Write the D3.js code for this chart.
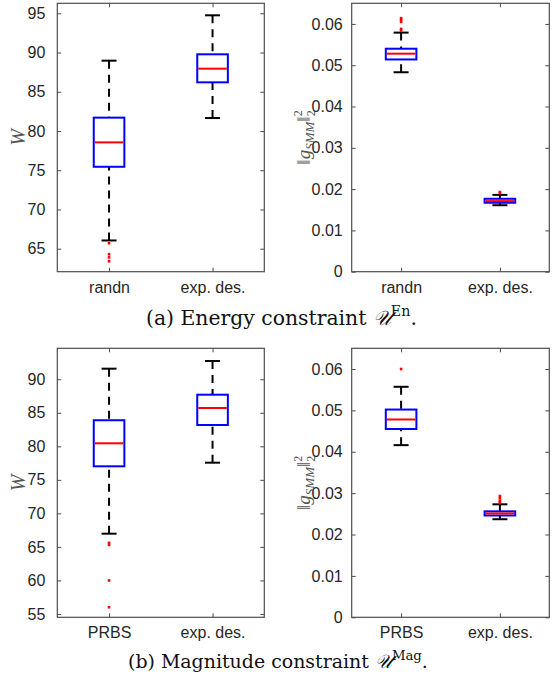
<!DOCTYPE html>
<html>
<head>
<meta charset="utf-8">
<script src="https://cdn.jsdelivr.net/npm/d3@7"></script>
<style>
  html, body { margin: 0; padding: 0; background: #fff; }
  svg { display: block; }
</style>
</head>
<body>
<script>
// ---------------- DATA ----------------
// Box stats: [lower whisker, Q1, median, Q3, upper whisker]
const categoriesEnergy = ["randn", "exp. des."];
const categoriesMagnitude = ["PRBS", "exp. des."];

const energyW_randn = [66.05, 75.44, 78.55, 81.70, 88.96];
const energyW_expdes = [81.65, 86.20, 87.94, 89.77, 94.74];
const energyW_randnOutliers = [65.7, 64.3, 63.9, 63.4];
const energyW_expdesOutliers = [];

const energyG_randn = [0.0483, 0.0514, 0.0528, 0.0540, 0.0579];
const energyG_expdes = [0.0161, 0.0167, 0.0171, 0.01766, 0.0186];
const energyG_randnOutliers = [0.0614, 0.0610, 0.0605, 0.0588, 0.0584];
const energyG_expdesOutliers = [0.0193, 0.0190];

const magW_prbs = [66.97, 77.02, 80.45, 83.89, 91.58];
const magW_expdes = [77.56, 83.18, 85.72, 87.70, 92.73];
const magW_prbsOutliers = [65.6, 65.3, 60.0, 56.0];
const magW_expdesOutliers = [];

const magG_prbs = [0.0416, 0.0455, 0.0478, 0.0502, 0.0557];
const magG_expdes = [0.0237, 0.0246, 0.0251, 0.0256, 0.0273];
const magG_prbsOutliers = [0.0600];
const magG_expdesOutliers = [0.0293, 0.0288, 0.0282, 0.0278, 0.0276];

const ticksW_energy = [65, 70, 75, 80, 85, 90, 95];
const ticksW_magnitude = [55, 60, 65, 70, 75, 80, 85, 90];
const ticksG = [0, 0.01, 0.02, 0.03, 0.04, 0.05, 0.06];
const tickLabelsG = ["0", "0.01", "0.02", "0.03", "0.04", "0.05", "0.06"];

const domainW_energy = [62.07, 96.27];
const domainW_magnitude = [54.5, 94.62];
const domainG = [0, 0.065];

// ---------------- LAYOUT ----------------
const W = 555, H = 679;
const svg = d3.select("body").append("svg").attr("width", W).attr("height", H);

const colLeft = { x0: 57.3, x1: 264.3, labelGap: 8, ylabX: 25 };
const colRight = { x0: 351.7, x1: 549.3, labelGap: 5, ylabX: 310 };
const rowTop = { y0: 3.3, y1: 271.7, xlabY: 293.3 };
const rowBot = { y0: 348.3, y1: 617.3, xlabY: 638 };

const AX = "#4d4d4d";
const TXT = "#262626";
const tickFont = "'Liberation Sans', Arial, Helvetica, sans-serif";
const serif = "'Liberation Serif', 'DejaVu Serif', serif";
const capFont = "'DejaVu Serif', serif";

function drawPanel(col, row, cats, stats, outliers, domain, ticks, tickLabels, ylabelFn) {
  const g = svg.append("g");
  const x = d3.scalePoint().domain(cats).range([col.x0, col.x1]).padding(0.5);
  const y = d3.scaleLinear().domain(domain).range([row.y1, row.y0]);

  const yAxisL = d3.axisLeft(y).tickValues(ticks).tickSizeInner(-4).tickSizeOuter(0)
    .tickFormat((d, i) => tickLabels[i]).tickPadding(col.labelGap + 4);
  const gy = g.append("g").attr("transform", `translate(${col.x0},0)`).call(yAxisL);
  gy.select(".domain").remove();
  gy.selectAll(".tick line").attr("stroke", AX).attr("stroke-width", 1);
  gy.selectAll(".tick text").attr("font-family", tickFont).attr("font-size", 16).attr("fill", TXT);

  const yAxisR = d3.axisRight(y).tickValues(ticks).tickSizeInner(-4).tickSizeOuter(0).tickFormat("");
  const gyr = g.append("g").attr("transform", `translate(${col.x1},0)`).call(yAxisR);
  gyr.select(".domain").remove();
  gyr.selectAll(".tick line").attr("stroke", AX).attr("stroke-width", 1);

  const xAxisB = d3.axisBottom(x).tickSizeInner(-4).tickSizeOuter(0).tickPadding(10);
  const gx = g.append("g").attr("transform", `translate(0,${row.y1})`).call(xAxisB);
  gx.select(".domain").remove();
  gx.selectAll(".tick line").attr("stroke", AX).attr("stroke-width", 1);
  gx.selectAll(".tick text").attr("font-family", tickFont).attr("font-size", 16).attr("fill", TXT)
    .attr("dy", null).attr("y", row.xlabY - row.y1);

  const xAxisT = d3.axisTop(x).tickSizeInner(-4).tickSizeOuter(0).tickFormat("");
  const gxt = g.append("g").attr("transform", `translate(0,${row.y0})`).call(xAxisT);
  gxt.select(".domain").remove();
  gxt.selectAll(".tick line").attr("stroke", AX).attr("stroke-width", 1);

  g.append("rect").attr("x", col.x0).attr("y", row.y0)
    .attr("width", col.x1 - col.x0).attr("height", row.y1 - row.y0)
    .attr("fill", "none").attr("stroke", AX).attr("stroke-width", 1.2);

  const halfBox = 15.3, halfCap = 7.5;
  cats.forEach((c, i) => {
    const s = stats[i];
    const cx = x(c);
    g.append("line").attr("x1", cx).attr("x2", cx).attr("y1", y(s[4])).attr("y2", y(s[3]))
      .attr("stroke", "#000").attr("stroke-width", 2).attr("stroke-dasharray", "8,6");
    g.append("line").attr("x1", cx).attr("x2", cx).attr("y1", y(s[0])).attr("y2", y(s[1]))
      .attr("stroke", "#000").attr("stroke-width", 2).attr("stroke-dasharray", "8,6");
    [s[0], s[4]].forEach(v => {
      g.append("line").attr("x1", cx - halfCap).attr("x2", cx + halfCap).attr("y1", y(v)).attr("y2", y(v))
        .attr("stroke", "#000").attr("stroke-width", 2);
    });
    g.append("rect").attr("x", cx - halfBox).attr("y", y(s[3]))
      .attr("width", 2 * halfBox).attr("height", y(s[1]) - y(s[3]))
      .attr("fill", "none").attr("stroke", "#0000ff").attr("stroke-width", 2);
    g.append("line").attr("x1", cx - halfBox + 1).attr("x2", cx + halfBox - 1).attr("y1", y(s[2])).attr("y2", y(s[2]))
      .attr("stroke", "#ff0000").attr("stroke-width", 2);
    g.selectAll(null).data(outliers[i]).enter().append("rect")
      .attr("x", cx - 1.3).attr("y", d => y(d) - 1.3).attr("width", 2.6).attr("height", 2.6)
      .attr("fill", "#ff0000");
  });

  const lab = g.append("text")
    .attr("transform", `translate(${col.ylabX},${(row.y0 + row.y1) / 2}) rotate(-90)`)
    .attr("text-anchor", "middle").attr("font-family", serif).attr("fill", "#555");
  ylabelFn(lab);
}

function labelW(t) {
  t.attr("font-size", 20).attr("font-style", "italic").text("W");
}
function labelG(t) {
  t.attr("font-size", 19);
  t.append("tspan").text("\u2016");
  t.append("tspan").attr("font-style", "italic").text("g");
  t.append("tspan").attr("font-style", "italic").attr("font-size", 13).attr("dy", 4).text("SMM");
  t.append("tspan").attr("dy", -4).text("\u2016");
  t.append("tspan").attr("font-size", 12).attr("dy", -8).text("2");
  t.append("tspan").attr("font-size", 12).attr("dx", -6).attr("dy", 13).text("2");
}

drawPanel(colLeft, rowTop, categoriesEnergy, [energyW_randn, energyW_expdes],
  [energyW_randnOutliers, energyW_expdesOutliers], domainW_energy, ticksW_energy,
  ticksW_energy.map(String), labelW);
drawPanel(colRight, rowTop, categoriesEnergy, [energyG_randn, energyG_expdes],
  [energyG_randnOutliers, energyG_expdesOutliers], domainG, ticksG, tickLabelsG, labelG);
drawPanel(colLeft, rowBot, categoriesMagnitude, [magW_prbs, magW_expdes],
  [magW_prbsOutliers, magW_expdesOutliers], domainW_magnitude, ticksW_magnitude,
  ticksW_magnitude.map(String), labelW);
drawPanel(colRight, rowBot, categoriesMagnitude, [magG_prbs, magG_expdes],
  [magG_prbsOutliers, magG_expdesOutliers], domainG, ticksG, tickLabelsG, labelG);

// captions: scale the font so the caption spans the same width as in the figure
function caption(xLeft, xRight, yb, prefix, sup) {
  const base = 18;
  const t = svg.append("text").attr("x", xLeft).attr("y", yb).attr("text-anchor", "start")
    .attr("font-family", capFont).attr("font-size", base).attr("fill", "#111");
  t.append("tspan").text(prefix + " ");
  t.append("tspan").attr("font-style", "italic").text("\uD835\uDCB0");
  const sp = t.append("tspan").attr("font-size", base * 0.7).attr("dy", -base * 0.42).text(sup);
  const dot = t.append("tspan").attr("dy", base * 0.42).text(".");
  const w = t.node().getBBox().width;
  const fs = base * (xRight - xLeft) / w;
  t.attr("font-size", fs);
  sp.attr("font-size", fs * 0.7).attr("dy", -fs * 0.42);
  dot.attr("dy", fs * 0.42);
}
caption(146, 417, 325, "(a) Energy constraint", "En");
caption(128, 428, 668, "(b) Magnitude constraint", "Mag");
</script>
</body>
</html>
